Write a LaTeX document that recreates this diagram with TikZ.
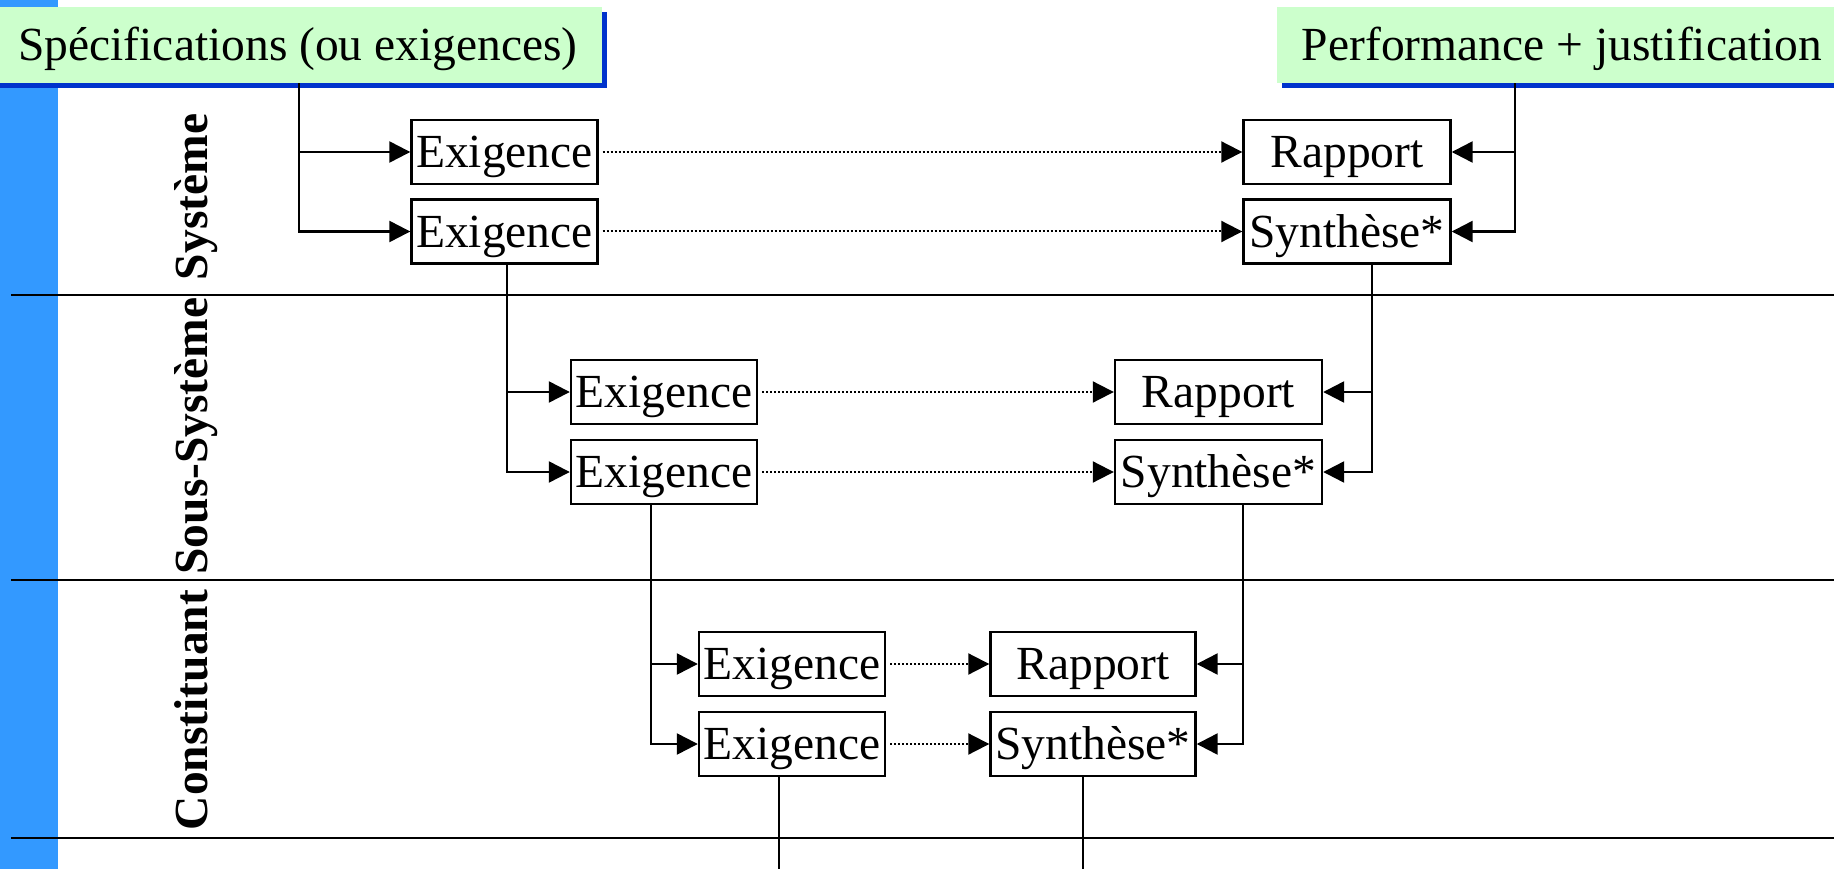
\documentclass[tikz,border=0pt]{standalone}
\usepackage{fontspec}
\setmainfont{Liberation Serif}
\usetikzlibrary{arrows.meta,shadows}
\definecolor{barblue}{RGB}{51,153,255}
\definecolor{shadblue}{RGB}{0,51,204}
\definecolor{palegreen}{RGB}{204,255,204}

\begin{document}
\begin{tikzpicture}[x=1pt,y=-1pt,>={Triangle[length=21pt,width=21pt]},
  boite/.style={draw,line width=2.4pt,inner sep=0pt,minimum height=64pt,text height=31.4pt,text depth=0pt,font=\fontsize{47.5}{50}\selectfont},
  titre/.style={fill=palegreen,inner sep=0pt,minimum height=76pt,text height=31.4pt,text depth=0pt,font=\fontsize{47.5}{50}\selectfont,drop shadow={shadow xshift=5pt,shadow yshift=-5pt,fill=shadblue,opacity=1}},
  niveau/.style={rotate=90,anchor=base,font=\fontsize{47.5}{50}\selectfont\bfseries},
  fleche/.style={->,line width=2.4pt},
  pointille/.style={->,line width=2pt,dash pattern=on 2pt off 2pt,shorten <=4pt},
  lane/.style={line width=2.4pt}]
  \useasboundingbox (0,0) rectangle (1834,869);
  \fill[barblue] (0,0) rectangle (58,869);
  % niveaux
  \draw[lane] (11,295) -- (1834,295);
  \draw[lane] (11,580) -- (1834,580);
  \draw[lane] (11,838) -- (1834,838);
  \node[niveau] (sys) at (207,197) {Système};
  \node[niveau] (ssys) at (207,436) {Sous-Système};
  \node[niveau] (cons) at (207,710) {Constituant};
  % titres
  \node[titre,minimum width=608pt] (spec) at (298,45) {Spécifications (ou exigences)};
  \node[titre,minimum width=570pt] (perf) at (1562,45) {Performance + justification};
  % boites
  \node[boite,minimum width=186pt] (exA1) at (504.5,152) {Exigence};
  \node[boite,minimum width=186pt] (exB1) at (504.5,231.5) {Exigence};
  \node[boite,minimum width=207pt] (rap1) at (1347,152) {Rapport};
  \node[boite,minimum width=207pt] (syn1) at (1347,231.5) {Synthèse*};
  \node[boite,minimum width=186pt] (exA2) at (664,392) {Exigence};
  \node[boite,minimum width=186pt] (exB2) at (664,472) {Exigence};
  \node[boite,minimum width=207pt] (rap2) at (1218.5,392) {Rapport};
  \node[boite,minimum width=207pt] (syn2) at (1218.5,472) {Synthèse*};
  \node[boite,minimum width=186pt] (exA3) at (792,664) {Exigence};
  \node[boite,minimum width=186pt] (exB3) at (792,744) {Exigence};
  \node[boite,minimum width=205pt] (rap3) at (1093,664) {Rapport};
  \node[boite,minimum width=205pt] (syn3) at (1093,744) {Synthèse*};
  % troncs
  \coordinate (ga1) at (299,0);  \coordinate (dr1) at (1515,0);
  \coordinate (ga2) at (507,0);  \coordinate (dr2) at (1372,0);
  \coordinate (ga3) at (651,0);  \coordinate (dr3) at (1243,0);
  \coordinate (bas1) at (779,875); \coordinate (bas2) at (1083,875);
  \draw[fleche] (spec.south -| ga1) |- (exB1);
  \draw[fleche] (ga1 |- exA1) -- (exA1);
  \draw[fleche] (perf.south -| dr1) |- (syn1);
  \draw[fleche] (dr1 |- rap1) -- (rap1);
  \draw[fleche] (exB1.south -| ga2) |- (exB2);
  \draw[fleche] (ga2 |- exA2) -- (exA2);
  \draw[fleche] (syn1.south -| dr2) |- (syn2);
  \draw[fleche] (dr2 |- rap2) -- (rap2);
  \draw[fleche] (exB2.south -| ga3) |- (exB3);
  \draw[fleche] (ga3 |- exA3) -- (exA3);
  \draw[fleche] (syn2.south -| dr3) |- (syn3);
  \draw[fleche] (dr3 |- rap3) -- (rap3);
  \draw[line width=2.4pt] (exB3.south -| bas1) -- (bas1);
  \draw[line width=2.4pt] (syn3.south -| bas2) -- (bas2);
  % pointilles
  \draw[pointille] (exA1) -- (rap1);
  \draw[pointille] (exB1) -- (syn1);
  \draw[pointille] (exA2) -- (rap2);
  \draw[pointille] (exB2) -- (syn2);
  \draw[pointille] (exA3) -- (rap3);
  \draw[pointille] (exB3) -- (syn3);
\end{tikzpicture}
\end{document}
